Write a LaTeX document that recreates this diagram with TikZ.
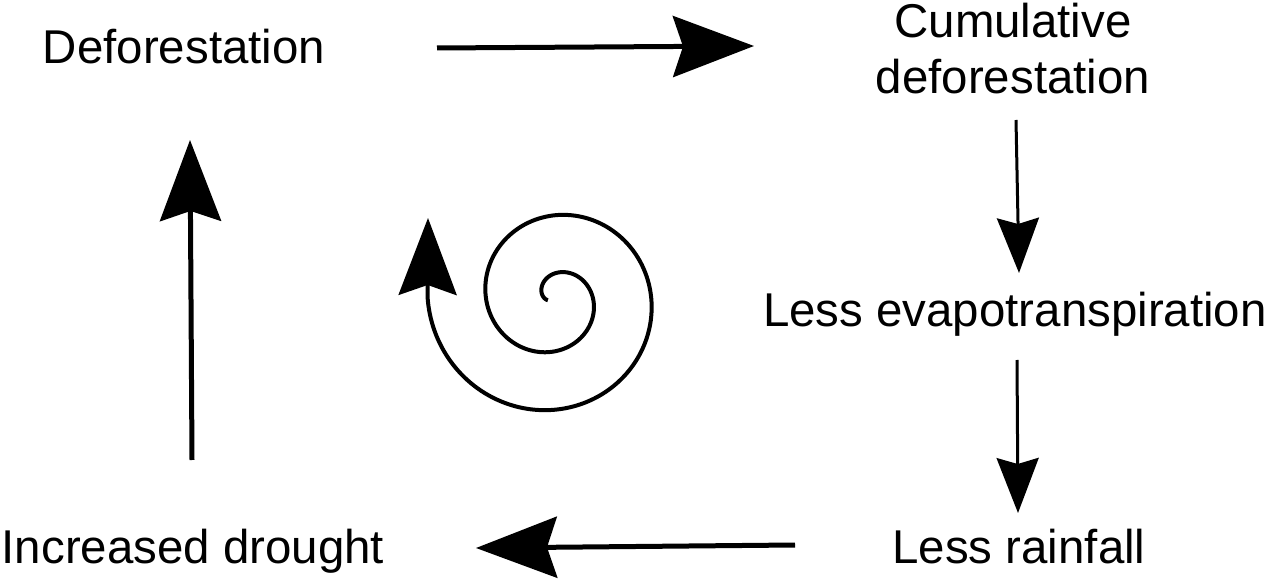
\documentclass[tikz,border=0pt]{standalone}
\usepackage{fontspec}
\setmainfont{Liberation Sans}
\usetikzlibrary{arrows.meta}
\begin{document}
\begin{tikzpicture}[x=0.02cm,y=-0.02cm,
  lbl/.style={font=\fontsize{27}{32.4}\selectfont, inner sep=0pt, anchor=base, align=center},
  bigarr/.style={line width=0.1cm, -{Stealth[length=1.62cm,width=1.22cm,inset=0.2cm]}},
  smallarr/.style={line width=0.06cm, -{Stealth[length=1.1cm,width=0.84cm,inset=0.12cm]}},
  spiralarr/.style={line width=0.08cm, -{Stealth[length=1.54cm,width=1.16cm,inset=0.2cm]}},
]
\useasboundingbox (0,0) rectangle (1270,580);

\node[lbl] (d) at (184,64) {Deforestation};
\node[lbl] (c) at (1013,94) {Cumulative\\deforestation};
\node[lbl] (e) at (1015,327) {Less evapotranspiration};
\node[lbl] (r) at (1019,563) {Less rainfall};
\node[lbl] (i) at (193,563) {Increased drought};

\coordinate (a1s) at (437,48);   \coordinate (a1e) at (754,46);
\coordinate (a2s) at (1016,120); \coordinate (a2e) at (1019,273);
\coordinate (a3s) at (1017,360); \coordinate (a3e) at (1018,513);
\coordinate (a4s) at (795,545);  \coordinate (a4e) at (476,548);
\coordinate (a5s) at (192,460);  \coordinate (a5e) at (190,140);

\draw[bigarr] (a1s) -- (a1e);
\draw[smallarr] (a2s) -- (a2e);
\draw[smallarr] (a3s) -- (a3e);
\draw[bigarr] (a4s) -- (a4e);
\draw[bigarr] (a5s) -- (a5e);

\coordinate (sp) at (428,218);
\draw[spiralarr] plot[domain=0:740,samples=400,variable=\t]
  ({554+(6.5+0.162*\t)*cos(200-\t)}, {298-(6.5+0.162*\t)*sin(200-\t)}) -- (sp);
\end{tikzpicture}
\end{document}
